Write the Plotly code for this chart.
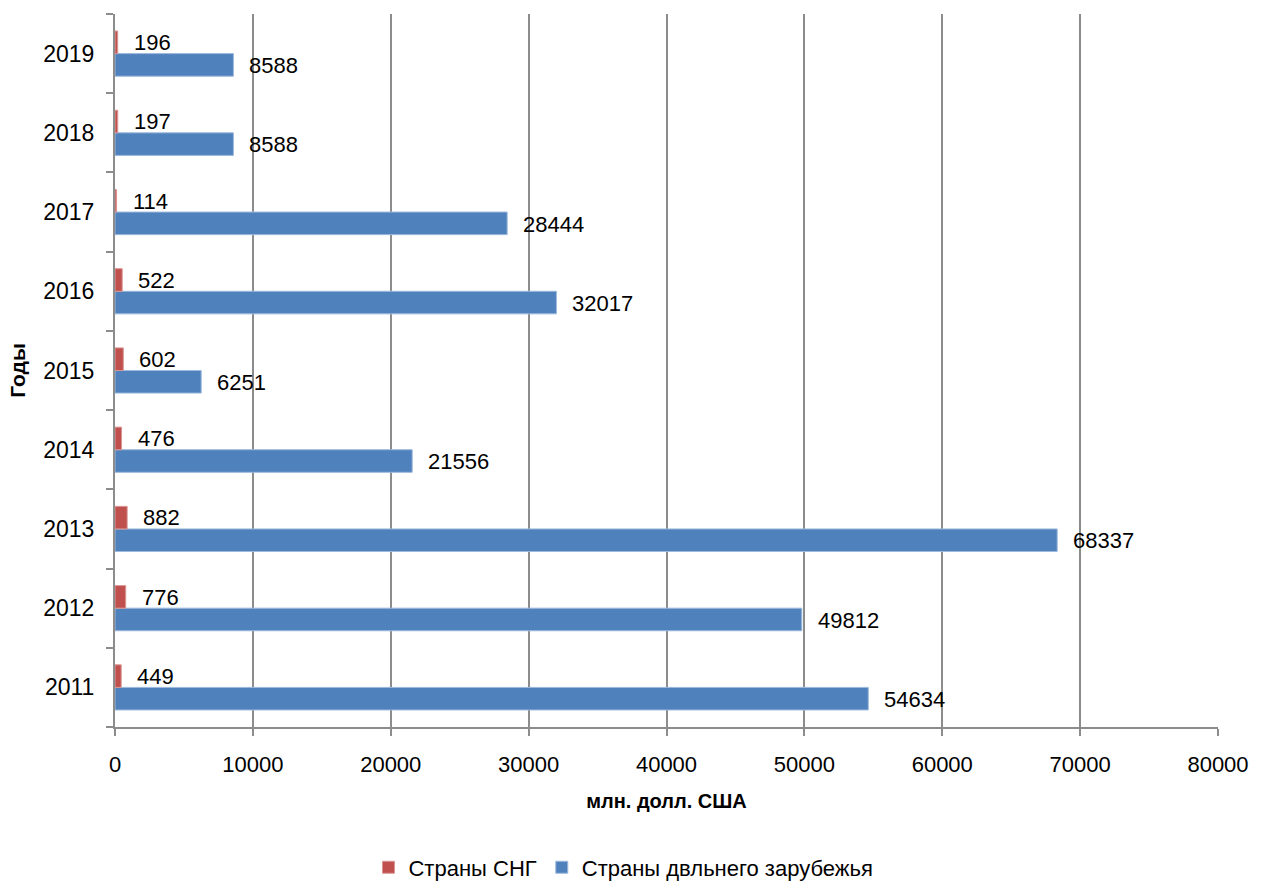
import plotly.graph_objects as go

years = ["2011", "2012", "2013", "2014", "2015", "2016", "2017", "2018", "2019"]
cis = [449, 776, 882, 476, 602, 522, 114, 197, 196]
far_abroad = [54634, 49812, 68337, 21556, 6251, 32017, 28444, 8588, 8588]
x_ticks = [0, 10000, 20000, 30000, 40000, 50000, 60000, 70000, 80000]

FONT = "Liberation Sans, Arial, sans-serif"
RED = "#C0504D"
BLUE = "#4F81BD"
GRID = "#8C8C8C"
FS = 22

fig = go.Figure()
fig.add_trace(go.Bar(
    y=years, x=far_abroad, orientation="h", name="Страны двльнего зарубежья",
    marker=dict(color=BLUE, line=dict(color="#9DB9DC", width=1)),
))
fig.add_trace(go.Bar(
    y=years, x=cis, orientation="h", name="Страны СНГ",
    marker=dict(color=RED, line=dict(color="#D99694", width=1)),
))

annotations = []
for i, v in enumerate(cis):
    annotations.append(dict(x=v, y=i, xref="x", yref="y", text=str(v), showarrow=False,
                            xanchor="left", yanchor="middle", xshift=14, yshift=11,
                            font=dict(family=FONT, size=FS, color="#000000")))
for i, v in enumerate(far_abroad):
    annotations.append(dict(x=v, y=i, xref="x", yref="y", text=str(v), showarrow=False,
                            xanchor="left", yanchor="middle", xshift=14, yshift=-12,
                            font=dict(family=FONT, size=FS, color="#000000")))

fig.update_layout(
    width=1262, height=883,
    margin=dict(l=115, r=44, t=14, b=156, autoexpand=False),
    paper_bgcolor="white", plot_bgcolor="white",
    barmode="group", bargap=0.43, bargroupgap=0,
    font=dict(family=FONT, size=FS, color="#000000"),
    annotations=annotations,
    legend=dict(orientation="h", x=0.461, xanchor="center", y=-0.197, yanchor="middle",
                traceorder="reversed", font=dict(family=FONT, size=FS)),
    xaxis=dict(range=[0, 80000], tickvals=x_ticks, ticktext=[str(t) for t in x_ticks],
               showgrid=True, gridcolor=GRID, gridwidth=2,
               showline=True, linecolor=GRID, linewidth=2,
               ticks="outside", ticklen=7, tickcolor=GRID, tickwidth=2,
               ticklabelstandoff=10, zeroline=False,
               title=dict(text="<b>млн. долл. США</b>", font=dict(family=FONT, size=20), standoff=18),
               tickfont=dict(family=FONT, size=FS)),
    yaxis=dict(type="category", categoryorder="array", categoryarray=years,
               range=[-0.5, 8.5], autorange=False,
               showgrid=False, showline=True, linecolor=GRID, linewidth=2,
               ticks="outside", ticklen=7, tickcolor=GRID, tickwidth=2,
               tickson="boundaries", ticklabelstandoff=14,
               title=dict(text="<b>Годы</b>", font=dict(family=FONT, size=21), standoff=12),
               tickfont=dict(family=FONT, size=23)),
)

fig.write_html("out.html")
